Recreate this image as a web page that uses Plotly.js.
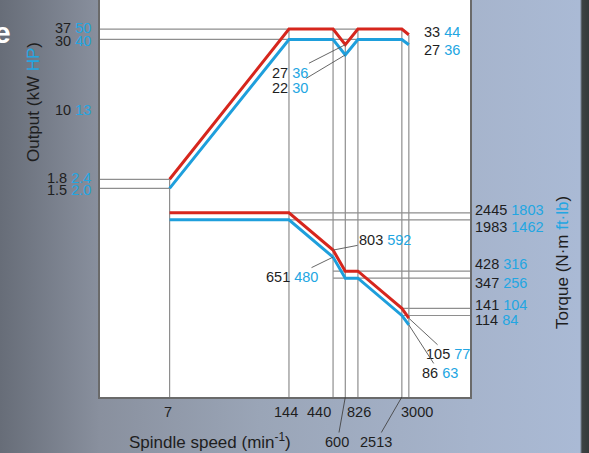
<!DOCTYPE html>
<html><head><meta charset="utf-8">
<script src="https://cdn.plot.ly/plotly-3.0.1.min.js"></script>
<style>
html,body{margin:0;padding:0;}
#chart{width:589px;height:453px;background:linear-gradient(to right,#676d78 0px,#89909e 100px,#9aa5b7 260px,#a6b4cc 470px,#aabad5 580px,#3d4343 582px,#353a3a 589px);}
</style></head><body><div id="chart"></div>
<script>
// ---- data ----
const speeds       = [7, 144, 440, 600, 826, 2513, 3000];      // min^-1
const outShortKW   = [1.8, 37, 37, 27, 37, 37, 33];            // red output, kW
const outShortHP   = [2.4, 50, 50, 36, 50, 50, 44];
const outContKW    = [1.5, 30, 30, 22, 30, 30, 27];            // blue output, kW
const outContHP    = [2.0, 40, 40, 30, 40, 40, 36];
const trqShortNm   = [2445, 2445, 803, 428, 428, 141, 105];    // red torque, N·m
const trqShortFtlb = [1803, 1803, 592, 316, 316, 104, 77];
const trqContNm    = [1983, 1983, 651, 347, 347, 114, 86];     // blue torque, N·m
const trqContFtlb  = [1462, 1462, 480, 256, 256, 84, 63];
const outTickKW    = [37, 30, 10, 1.8, 1.5];
const outTickHP    = [50, 40, 13, 2.4, 2.0];

// ---- styles ----
const RED = '#d6261d', BLUE = '#1e9fdc', BLUET = '#22a6e2', GRID = '#8e8e8e', TXT = '#1e1e1e';
const FONT = 'Liberation Sans, Arial, Helvetica, sans-serif';
const xRange = [0.0794, 4.150], outRange = [-1.6476, 1.8221], trqRange = [1.0, 6.147];

const fmt = (v, ref) => (String(ref).includes('.') ? v.toFixed(1) : String(v));
const lab = (a, b) => `${a} <span style="color:${BLUET}">${b}</span>`;
const L = Math.log10;

const xMin = Math.pow(10, xRange[0]), xMax = Math.pow(10, xRange[1]);
const yOutMin = Math.pow(10, outRange[0]);

// grid segments on output axis
const gOx = [], gOy = [];
speeds.forEach((s, i) => { gOx.push(s, s, null); gOy.push(outShortKW[i], yOutMin, null); });
[outShortKW[1], outContKW[1]].forEach(v => { gOx.push(xMin, speeds[5], null); gOy.push(v, v, null); });
[outShortKW[0], outContKW[0]].forEach(v => { gOx.push(xMin, speeds[0], null); gOy.push(v, v, null); });
// grid segments on torque axis
const gTx = [], gTy = [];
[[1, 1], [3, 2], [5, 5]].forEach(([i, from]) => {
  [trqShortNm[i], trqContNm[i]].forEach(v => { gTx.push(speeds[from], xMax, null); gTy.push(v, v, null); });
});

const traces = [
  {x: gOx, y: gOy, mode: 'lines', line: {color: GRID, width: 1.2}, yaxis: 'y', hoverinfo: 'skip'},
  {x: gTx, y: gTy, mode: 'lines', line: {color: GRID, width: 1.2}, yaxis: 'y2', hoverinfo: 'skip'},
  {x: speeds, y: outShortKW, mode: 'lines', line: {color: RED, width: 3}, yaxis: 'y'},
  {x: speeds, y: outContKW, mode: 'lines', line: {color: BLUE, width: 3}, yaxis: 'y'},
  {x: speeds, y: trqShortNm, mode: 'lines', line: {color: RED, width: 3}, yaxis: 'y2'},
  {x: speeds, y: trqContNm, mode: 'lines', line: {color: BLUE, width: 3}, yaxis: 'y2'}
];

const F = {family: FONT, size: 14.5, color: TXT};
const ann = [];
// output axis labels (left)
[1.5, -1.5, -16, 1.5, -1.5].forEach((sh, i) => {
  ann.push({x: 0, xref: 'paper', xanchor: 'right', xshift: -7, y: L(outTickKW[i]), yref: 'y', yshift: sh,
            showarrow: false, text: lab(String(outTickKW[i]), fmt(outTickHP[i], outTickKW[i])), font: F});
});
// point labels with leaders
const lead = (xi, yv, yref, text, ax, ay) => ann.push({x: L(xi), y: L(yv), xref: 'x', yref: yref, text: text, showarrow: true,
  arrowhead: 0, arrowwidth: 0.9, arrowcolor: '#555', standoff: 0, ax: ax, ay: ay, font: F});
lead(speeds[3], outShortKW[3], 'y', lab(outShortKW[3], outShortHP[3]), -55, 28);
lead(speeds[3], outContKW[3], 'y', lab(outContKW[3], outContHP[3]), -55, 33);
lead(speeds[2], trqShortNm[2], 'y2', lab(trqShortNm[2], trqShortFtlb[2]), 52, -10);
lead(speeds[2], trqContNm[2], 'y2', lab(trqContNm[2], trqContFtlb[2]), -41, 20);
lead(speeds[6], trqShortNm[6], 'y2', lab(trqShortNm[6], trqShortFtlb[6]), 39, 36);
lead(speeds[6], trqContNm[6], 'y2', lab(trqContNm[6], trqContFtlb[6]), 31, 48);
// end-of-curve output labels
ann.push({x: L(speeds[6]), y: L(outShortKW[6]), xref: 'x', yref: 'y', xanchor: 'left', xshift: 13, yshift: 3, showarrow: false, text: lab(outShortKW[6], outShortHP[6]), font: F});
ann.push({x: L(speeds[6]), y: L(outContKW[6]), xref: 'x', yref: 'y', xanchor: 'left', xshift: 13, yshift: -5, showarrow: false, text: lab(outContKW[6], outContHP[6]), font: F});
// right torque labels
[[1, 3], [1, -7], [3, 7], [3, -5], [5, 3], [5, -5]].forEach(([i, sh], k) => {
  const red = k % 2 === 0;
  const nm = red ? trqShortNm[i] : trqContNm[i], fl = red ? trqShortFtlb[i] : trqContFtlb[i];
  ann.push({x: 1, xref: 'paper', y: L(nm), yref: 'y2', xanchor: 'left', xshift: 3, yshift: sh, showarrow: false, text: lab(nm, fl), font: F});
});
// speed labels under the axis
[[0, -2], [1, -3], [2, -14], [4, 1], [6, 8]].forEach(([i, sh]) => {
  ann.push({x: L(speeds[i]), xref: 'x', y: 0, yref: 'paper', yanchor: 'top', yshift: -5, xshift: sh, showarrow: false, text: String(speeds[i]), font: F});
});
[[3, -8], [5, -26]].forEach(([i, ax]) => {
  ann.push({x: L(speeds[i]), xref: 'x', y: 0, yref: 'paper', showarrow: true, arrowhead: 0, arrowwidth: 0.9, arrowcolor: '#444', standoff: 0, ax: ax, ay: 45, text: String(speeds[i]), font: F});
});
// axis titles
const TF = {family: FONT, size: 17, color: TXT};
ann.push({x: 0, xref: 'paper', xshift: 110, y: 0, yref: 'paper', yshift: -44, xanchor: 'center', yanchor: 'middle', showarrow: false, text: 'Spindle speed (min<sup>-1</sup>)', font: TF});
ann.push({x: 0, xref: 'paper', xshift: -67, y: 0.743, yref: 'paper', xanchor: 'center', yanchor: 'middle', textangle: -90, showarrow: false, text: `Output (kW <span style="color:${BLUET}">HP</span>)`, font: TF});
ann.push({x: 1, xref: 'paper', xshift: 92, y: 0.3375, yref: 'paper', xanchor: 'center', yanchor: 'middle', textangle: -90, showarrow: false, text: `Torque (N·m <span style="color:${BLUET}">ft·lb</span>)`, font: TF});
// cut-off page heading letter
ann.push({x: 0, xref: 'paper', xshift: -87, y: 0.917, yref: 'paper', xanchor: 'right', yanchor: 'middle', showarrow: false, text: '<b>e</b>', font: {family: FONT, size: 30, color: '#ffffff'}});

const layout = {
  width: 589, height: 453,
  margin: {l: 100, r: 119, t: 0, b: 56, pad: 0},
  paper_bgcolor: 'rgba(0,0,0,0)', plot_bgcolor: '#ffffff',
  showlegend: false, hovermode: false,
  xaxis: {type: 'log', range: xRange, showgrid: false, zeroline: false, showticklabels: false, ticks: '',
          showline: true, mirror: true, linecolor: '#6a6a6a', linewidth: 1.8},
  yaxis: {type: 'log', range: outRange, showgrid: false, zeroline: false, showticklabels: false, ticks: '',
          showline: true, mirror: true, linecolor: '#6a6a6a', linewidth: 1.8},
  yaxis2: {type: 'log', range: trqRange, overlaying: 'y', side: 'right', showgrid: false, zeroline: false,
           showticklabels: false, ticks: '', showline: false},
  annotations: ann
};
Plotly.newPlot('chart', traces, layout, {staticPlot: true, displayModeBar: false});
</script></body></html>
